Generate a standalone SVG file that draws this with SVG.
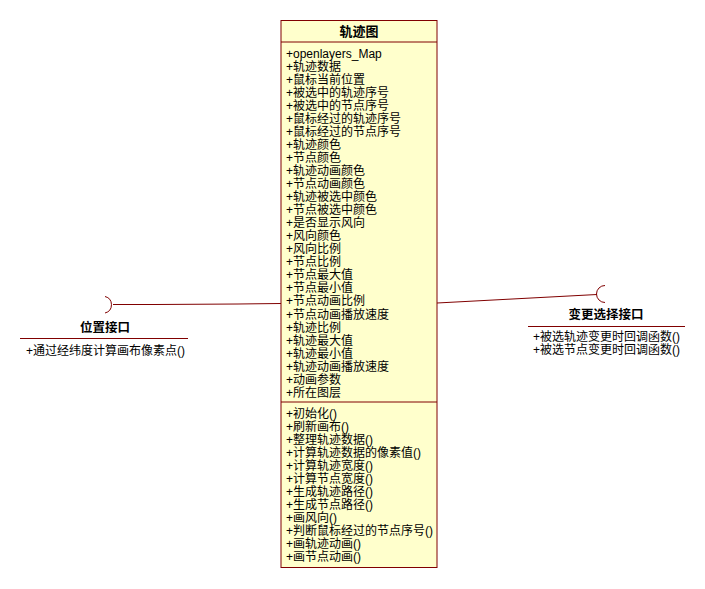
<svg xmlns="http://www.w3.org/2000/svg" width="705" height="589" viewBox="0 0 705 589">
<style>
.t{font-family:"Liberation Sans","Noto Sans CJK SC",sans-serif;font-size:12px;fill:#000}
.b{font-weight:bold;text-anchor:middle;font-size:12.5px}
.ln{stroke:#800000;stroke-width:1;fill:none}
</style>
<rect width="705" height="589" fill="#fff"/>
<g id="connectors">
<path class="ln" d="M113,304.5 L155,304.5 L238,304 L281,303.5"/>
<path class="ln" d="M437,303 L597,294.5"/>
</g>
<g id="trackmap">
<rect x="281" y="20.5" width="156" height="547" fill="#FFFFCC" stroke="#800000"/>
<line class="ln" x1="281" y1="42" x2="437" y2="42"/>
<line class="ln" x1="281" y1="402" x2="437" y2="402"/>
<text class="t b" x="359" y="36" style="font-size:13px">轨迹图</text>
<text class="t" x="286">
<tspan x="286" y="57.5">+openlayers_Map</tspan>
<tspan x="286" y="70.5">+轨迹数据</tspan>
<tspan x="286" y="83.6">+鼠标当前位置</tspan>
<tspan x="286" y="96.6">+被选中的轨迹序号</tspan>
<tspan x="286" y="109.7">+被选中的节点序号</tspan>
<tspan x="286" y="122.7">+鼠标经过的轨迹序号</tspan>
<tspan x="286" y="135.8">+鼠标经过的节点序号</tspan>
<tspan x="286" y="148.8">+轨迹颜色</tspan>
<tspan x="286" y="161.9">+节点颜色</tspan>
<tspan x="286" y="174.9">+轨迹动画颜色</tspan>
<tspan x="286" y="188">+节点动画颜色</tspan>
<tspan x="286" y="201">+轨迹被选中颜色</tspan>
<tspan x="286" y="214.1">+节点被选中颜色</tspan>
<tspan x="286" y="227.1">+是否显示风向</tspan>
<tspan x="286" y="240.2">+风向颜色</tspan>
<tspan x="286" y="253.2">+风向比例</tspan>
<tspan x="286" y="266.3">+节点比例</tspan>
<tspan x="286" y="279.3">+节点最大值</tspan>
<tspan x="286" y="292.4">+节点最小值</tspan>
<tspan x="286" y="305.4">+节点动画比例</tspan>
<tspan x="286" y="318.5">+节点动画播放速度</tspan>
<tspan x="286" y="331.5">+轨迹比例</tspan>
<tspan x="286" y="344.6">+轨迹最大值</tspan>
<tspan x="286" y="357.6">+轨迹最小值</tspan>
<tspan x="286" y="370.7">+轨迹动画播放速度</tspan>
<tspan x="286" y="383.7">+动画参数</tspan>
<tspan x="286" y="396.8">+所在图层</tspan>
</text>
<text class="t">
<tspan x="286" y="418">+初始化()</tspan>
<tspan x="286" y="431">+刷新画布()</tspan>
<tspan x="286" y="444">+整理轨迹数据()</tspan>
<tspan x="286" y="457">+计算轨迹数据的像素值()</tspan>
<tspan x="286" y="470">+计算轨迹宽度()</tspan>
<tspan x="286" y="483">+计算节点宽度()</tspan>
<tspan x="286" y="496">+生成轨迹路径()</tspan>
<tspan x="286" y="509">+生成节点路径()</tspan>
<tspan x="286" y="522">+画风向()</tspan>
<tspan x="286" y="535">+判断鼠标经过的节点序号()</tspan>
<tspan x="286" y="548">+画轨迹动画()</tspan>
<tspan x="286" y="561">+画节点动画()</tspan>
</text>
</g>
<g id="position-interface">
<path class="ln" d="M105,296.5 A8.5,8.5 0 0 1 105,313"/>
<text class="t b" x="105" y="332">位置接口</text>
<line class="ln" x1="20" y1="338.5" x2="188" y2="338.5"/>
<text class="t" x="26" y="355">+通过经纬度计算画布像素点()</text>
</g>
<g id="change-interface">
<path class="ln" d="M605,285.5 A8.5,8.5 0 0 0 605,302.5"/>
<text class="t b" x="606" y="319">变更选择接口</text>
<line class="ln" x1="528" y1="326.5" x2="685" y2="326.5"/>
<text class="t">
<tspan x="533" y="341">+被选轨迹变更时回调函数()</tspan>
<tspan x="533" y="353.5">+被选节点变更时回调函数()</tspan>
</text>
</g>
</svg>
